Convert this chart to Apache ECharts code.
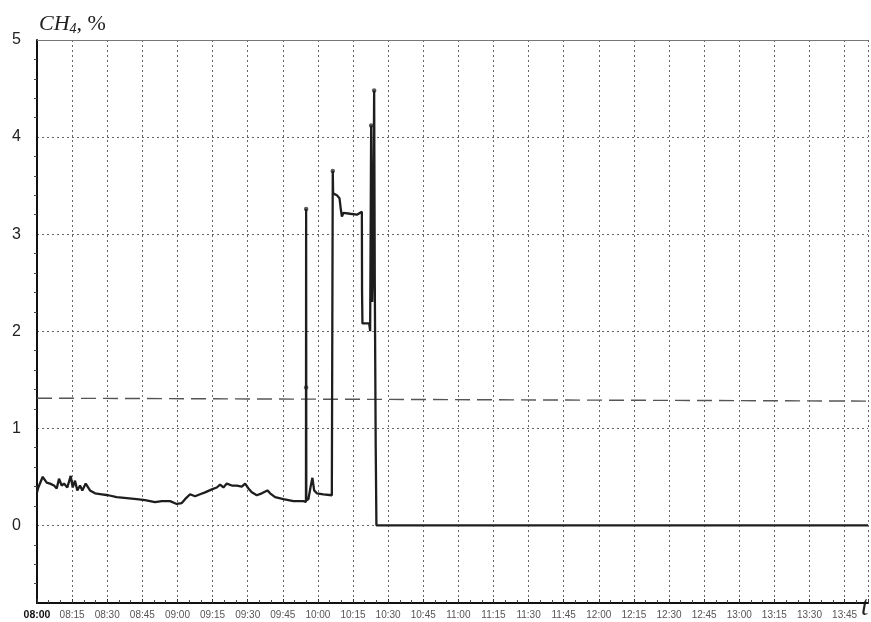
<!DOCTYPE html>
<html><head><meta charset="utf-8">
<script src="https://cdn.jsdelivr.net/npm/echarts@6/dist/echarts.min.js"></script>
<style>html,body{margin:0;padding:0;background:#fff}#c{width:871px;height:622px}</style>
</head><body><div id="c"></div><script>
// x tick labels (every 15 min)
const tickLabels = ['08:00','08:15','08:30','08:45','09:00','09:15','09:30','09:45','10:00','10:15','10:30','10:45',
  '11:00','11:15','11:30','11:45','12:00','12:15','12:30','12:45','13:00','13:15','13:30','13:45'];
// time in minutes after 08:00
const tMin = [0,0.56,2.44,4.15,5.56,7.27,8.42,9.40,10.56,11.54,12.95,14.40,15.26,16.24,17.22,18.38,19.36,20.81,22.65,24.79,
  27.65,30.47,34.06,38.34,42.61,46.16,50.43,53.30,56.84,59.71,61.84,63.25,65.39,67.53,69.67,71.80,74.67,76.80,78.21,79.63,
  81.08,83.22,85.35,87.49,88.90,90.31,91.77,93.90,96.04,98.43,99.58,101.72,105.27,109.54,113.82,114.9,114.97,115.05,115.95,116.98,
  117.66,118.39,119.54,122.36,125.95,126.3,126.35,126.5,128.11,129.22,129.82,130.25,130.94,133.78,136.64,138.78,138.86,139.03,141.9,142.32,
  142.75,143.2,143.6,144.03,144.3,144.7,145.0,355];
// CH4 concentration, %
const ch4 = [0.34,0.39,0.50,0.44,0.43,0.41,0.38,0.48,0.41,0.43,0.39,0.51,0.39,0.46,0.36,0.41,0.36,0.43,0.36,0.33,
  0.32,0.31,0.29,0.28,0.27,0.26,0.24,0.25,0.25,0.22,0.23,0.27,0.32,0.30,0.32,0.34,0.37,0.39,0.42,0.39,
  0.43,0.41,0.41,0.40,0.43,0.38,0.34,0.31,0.33,0.36,0.33,0.29,0.27,0.25,0.25,0.24,3.26,0.26,0.27,0.41,
  0.49,0.36,0.33,0.32,0.31,0.30,3.65,3.42,3.40,3.37,3.25,3.18,3.22,3.21,3.20,3.23,2.40,2.08,2.08,2.00,
  4.12,2.30,2.80,4.48,2.50,0.80,0.00,0.00];
// marked sample points (dots)
const dotT = [114.97,114.97,126.35,142.75,144.03];
const dotV = [3.26,1.42,3.65,4.12,4.48];
// threshold dashed line
const thrT = [0,355];
const thrV = [1.31,1.28];

const chart = echarts.init(document.getElementById('c'), null, {renderer:'canvas'});
const grid = '#666';
chart.setOption({
  animation:false,
  backgroundColor:'#fff',
  grid:{left:37,right:3,top:40,bottom:19},
  xAxis:{
    type:'value', min:0, max:355, interval:15,
    axisLine:{show:true,onZero:false,lineStyle:{color:'#111',width:2}},
    axisTick:{show:true,inside:true,length:4,lineStyle:{color:'#333'}},
    minorTick:{show:true,splitNumber:3,length:3,lineStyle:{color:'#444'}},
    splitLine:{show:true,lineStyle:{type:[2,3],color:grid,width:1}},
    axisLabel:{
      margin:7, fontSize:10, color:'#555', fontFamily:'Liberation Sans',
      formatter:function(v){ if (v % 15 !== 0) return ''; const i=v/15; const s=tickLabels[i]; if(!s) return ''; return i===0?'{b|'+s+'}':s; },
      rich:{b:{fontWeight:'bold',color:'#111',fontSize:10.5,fontFamily:'Liberation Sans'}}
    }
  },
  yAxis:{
    type:'value', min:-0.8, max:5, minInterval:1, maxInterval:1,
    axisLine:{show:true,lineStyle:{color:'#111',width:2}},
    axisTick:{show:false},
    minorTick:{show:true,splitNumber:5,length:3,lineStyle:{color:'#444'}},
    splitLine:{show:true,lineStyle:{type:[2,3],color:grid,width:1}},
    axisLabel:{showMinLabel:false,margin:16,fontSize:16,color:'#222',fontFamily:'Liberation Sans',
      formatter:function(v){ return Number.isInteger(v)? String(v):''; }},
    name:'{i|CH}{s|4}{n|, %}', nameLocation:'end', nameGap:4,
    nameTextStyle:{align:'left',verticalAlign:'bottom',padding:[0,0,0,2],
      rich:{
        i:{fontFamily:'Liberation Serif',fontStyle:'italic',fontSize:22,color:'#222'},
        s:{fontFamily:'Liberation Serif',fontStyle:'italic',fontSize:14,color:'#222',padding:[9,0,0,0]},
        n:{fontFamily:'Liberation Serif',fontSize:22,color:'#222'}
      }}
  },
  graphic:[{type:'text',left:861,top:594,style:{text:'t',font:'italic 27px "Liberation Serif"',fill:'#222'}}],
  series:[
    {type:'line', data:thrT.map((t,i)=>[t,thrV[i]]), showSymbol:false, silent:true,
      lineStyle:{color:'#555',width:1.4,type:[15,7]},
      markLine:{silent:true,symbol:'none',label:{show:false},lineStyle:{color:'#777',type:'solid',width:1},data:[{yAxis:5}]}},
    {type:'line', data:tMin.map((t,i)=>[t,ch4[i]]), showSymbol:false, silent:true,
      lineStyle:{color:'#1e1e1e',width:2.3}},
    {type:'scatter', data:dotT.map((t,i)=>[t,dotV[i]]), symbolSize:4.5, itemStyle:{color:'#333'}, silent:true}
  ]
});
</script></body></html>
